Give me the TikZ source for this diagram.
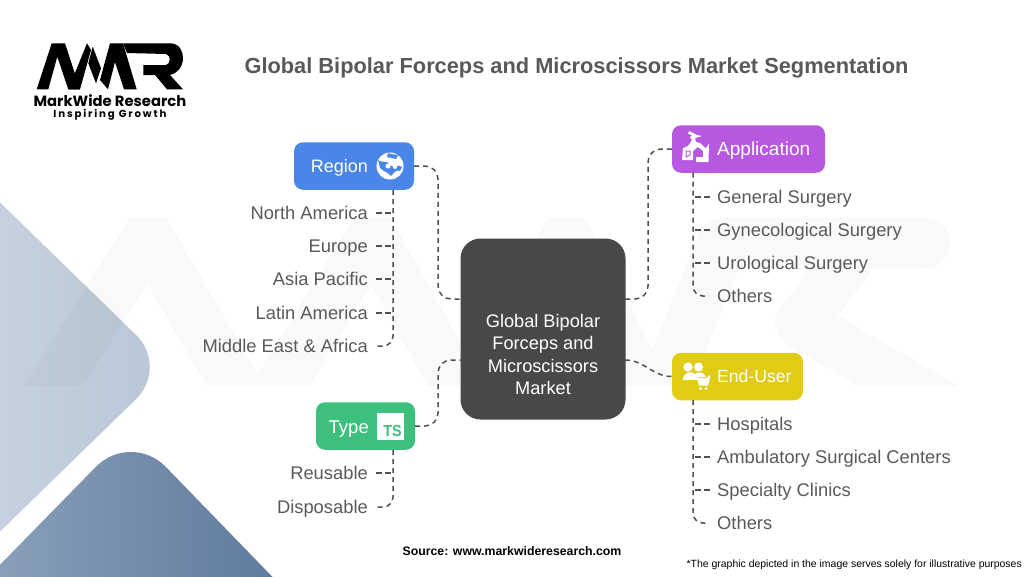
\documentclass[tikz,border=0pt]{standalone}
\usepackage{fontspec}
\usetikzlibrary{calc}
\setmainfont{Liberation Sans}
\newfontfamily\logofont{Poppins}
\newfontfamily\logospaced[LetterSpace=18]{Poppins}
\definecolor{txt}{HTML}{595959}
\definecolor{dashc}{HTML}{505050}
\definecolor{regionc}{HTML}{4A86E8}
\definecolor{appc}{HTML}{B857E0}
\definecolor{userc}{HTML}{E0CB15}
\definecolor{typec}{HTML}{3DBF7D}
\definecolor{corec}{HTML}{484848}
\tikzset{
  x=1pt,y=-1pt,
  catbox/.style={rounded corners=9pt,inner sep=0pt,minimum height=47.5pt},
  catlabel/.style={text=white,inner sep=0pt,text height=14pt,text depth=2pt},
  item/.style={text=txt,inner sep=0pt,font=\fontsize{18.35}{22}\selectfont,text height=14pt,text depth=2pt},
  dashline/.style={draw=dashc,line width=1.5pt,dash pattern=on 5pt off 4pt,rounded corners=13pt},
  tick/.style={draw=dashc,line width=1.5pt,dash pattern=on 6pt off 3pt},
  logoshape/.style={fill=black,draw=none},
  iconw/.style={fill=white,draw=none}
}
\begin{document}
\begin{tikzpicture}
\useasboundingbox (0,0) rectangle (1024,576);
\clip (0,0) rectangle (1024,576);
\fill[white] (0,0) rectangle (1024,576);
% background shapes
\shade[left color={rgb,255:red,202;green,213;blue,225},right color={rgb,255:red,184;green,198;blue,214},rounded corners=46pt]
  (-60,144) -- (169,367) -- (-60,590) -- cycle;
\shade[left color={rgb,255:red,146;green,167;blue,192},right color={rgb,255:red,88;green,116;blue,152},rounded corners=50pt]
  (131,431) -- (320,626) -- (-60,626) -- cycle;
% watermark
\begin{scope}
\clip (0,218) rectangle (1024,385);
\draw[black,opacity=0.025,line width=50pt,line join=round]
  (38,410) -- (148,236) -- (250,410)
  (265,410) -- (372,236) -- (470,410)
  (478,410) -- (566,236) -- (655,410)
  (655,410) -- (722,243) -- (925,243) arc (-90:90:-40) -- (800,323) -- (950,410);
\end{scope}
% logo
\fill[logoshape] (36.7,89.3) -- (51.7,43.3) -- (65,43.3) -- (80,89.3) -- (68.3,89.3) -- (57.3,56.7) -- (48.3,89.3) -- cycle;
\fill[logoshape] (68.3,89.3) -- (80,89.3) -- (91,50) -- (87,43.3) -- cycle;
\fill[logoshape] (92.7,46.7) -- (101,68.3) -- (96,83.3) -- (88.3,63.3) -- cycle;
\fill[logoshape] (100,80) -- (110,43.3) -- (123,43.3) -- (136.7,89.3) -- (124,89.3) -- (115,62) -- (108,89.3) -- cycle;
\fill[logoshape] (123,43.3) -- (170,43.3) .. controls (180,43.3) and (183,52) .. (183,58) .. controls (183,66) and (178,73) .. (170,75) -- (183,89.3) -- (167,89.3) -- (155,75) -- (143.3,75) -- (143.3,65) -- (166,65) .. controls (171,64) and (171,55) .. (166,54) -- (127,53) -- cycle;
\node[inner sep=0pt,anchor=center] (logoname) at (110,100.5) {\logofont\bfseries\fontsize{14.8}{16}\selectfont MarkWide Research};
\node[inner sep=0pt,anchor=center] (logotag) at (110,115) {\logospaced\bfseries\fontsize{10.2}{12}\selectfont Inspiring Growth};
% title
\node[inner sep=0pt,text=txt] (title) at (576.5,68) {\bfseries\fontsize{21.8}{26}\selectfont Global Bipolar Forceps and Microscissors Market Segmentation};
% core
\node[fill=corec,rounded corners=20pt,minimum width=165pt,minimum height=181pt,inner sep=0pt] (core) at (543,329) {};
\node[inner sep=0pt,text=white,align=center,font=\fontsize{18.2}{22.2}\selectfont] (corel) at (543,354.5) {Global Bipolar\\Forceps and\\Microscissors\\Market};
% category boxes
\node[catbox,fill=regionc,minimum width=120pt] (region) at (354,166) {};
\node[catbox,fill=appc,minimum width=153pt] (app) at (748.5,149) {};
\node[catbox,fill=userc,minimum width=131pt] (user) at (737.5,376.5) {};
\node[catbox,fill=typec,minimum width=99pt] (type) at (365.5,426) {};
\node[catlabel,anchor=east,font=\fontsize{18}{22}\selectfont] (regionl) at (368,166) {Region};
\node[catlabel,anchor=west,font=\fontsize{19}{22}\selectfont] (appl) at (717,149) {Application};
\node[catlabel,anchor=west,font=\fontsize{17.6}{22}\selectfont] (userl) at (717,376.5) {End-User};
\node[catlabel,anchor=east,font=\fontsize{18.5}{22}\selectfont] (typel) at (369,427) {Type};
% globe icon
\fill[white] (390,166) circle (13.5);
\fill[regionc] (378,160) .. controls (382,164) and (386,159) .. (390,165) .. controls (394,170) and (398,163) .. (402,167) -- (400,171) .. controls (396,169) and (394,173) .. (391,176) .. controls (388,172) and (384,172) .. (380,168) -- cycle;
\fill[regionc] (388,153) .. controls (392,155) and (395,154) .. (398,155) -- (396,159) .. controls (393,158) and (390,158) .. (387,157) -- cycle;
\fill[white] (388,166) circle (2.5) (395,167) circle (2);
% TS icon
\fill[iconw] (377,413) rectangle (404,440);
\node[inner sep=0pt,text=typec,anchor=center,xscale=0.9] (tsl) at (392.5,431) {\bfseries\fontsize{16}{18}\selectfont TS};
% application icon
\fill[iconw] (683,148) -- (688,146) -- (692,140) -- (690,137) -- (692,135) -- (688,134) -- (689,131) -- (697,135) -- (702,136) -- (695,138) -- (696,142) -- (700,143) -- (705,148) -- (707,147) -- (709,143) -- (708.5,162) -- (696,162) -- (696,157) -- (703,157) -- (703,151) -- (698,147) -- (693,151) -- (693,160) -- (682,160) -- cycle;
\draw[appc,line width=1pt] (686,151) -- (690,151) -- (690,155) -- (686,157) -- cycle;
% end-user icon
\fill[iconw] (688,367) circle (4.6) (698.5,367) circle (4.6);
\fill[iconw] (683,380) .. controls (683,371) and (693,371) .. (695,374) .. controls (698,371) and (704,372) .. (706,377) -- (698,377) -- (698,380) -- cycle;
\fill[iconw] (697,378) -- (707,378) -- (708.5,375.5) -- (710.5,376) -- (708,385.5) -- (699,385.5) -- cycle;
\fill[iconw] (700.5,388.5) circle (1.5) (706,388.5) circle (1.5);
% item lists
\node[item,anchor=east] (r1) at (368,213) {North America};
\node[item,anchor=east] (r2) at (368,246) {Europe};
\node[item,anchor=east] (r3) at (368,279) {Asia Pacific};
\node[item,anchor=east] (r4) at (368,313) {Latin America};
\node[item,anchor=east] (r5) at (368,346) {Middle East \& Africa};
\node[item,anchor=west] (a1) at (717,197) {General Surgery};
\node[item,anchor=west] (a2) at (717,230) {Gynecological Surgery};
\node[item,anchor=west] (a3) at (717,263) {Urological Surgery};
\node[item,anchor=west] (a4) at (717,296) {Others};
\node[item,anchor=west] (u1) at (717,424) {Hospitals};
\node[item,anchor=west] (u2) at (717,457) {Ambulatory Surgical Centers};
\node[item,anchor=west] (u3) at (717,490) {Specialty Clinics};
\node[item,anchor=west] (u4) at (717,523) {Others};
\node[item,anchor=east] (t1) at (368,473) {Reusable};
\node[item,anchor=east] (t2) at (368,507) {Disposable};
% footer
\node[inner sep=0pt] (source) at (512,551) {\bfseries\fontsize{12.3}{15}\selectfont Source: www.markwideresearch.com};
\node[inner sep=0pt,anchor=east] (note) at (1022,565) {\fontsize{10.45}{13}\selectfont *The graphic depicted in the image serves solely for illustrative purposes};
% main connectors
\coordinate (cl1) at (461,299);
\coordinate (cr1) at (625,299);
\coordinate (cl2) at (461,360);
\coordinate (cr2) at (625,360);
\draw[dashline] (region.east) -| ($(cl1)+(-23,0)$) -- (cl1);
\draw[dashline] (app.west) -| ($(cr1)+(23,0)$) -- (cr1);
\draw[dashline] (type.east) -| ($(cl2)+(-23,0)$) -- (cl2);
\draw[draw=dashc,line width=1.5pt,dash pattern=on 5pt off 4pt] (cr2) to[out=0,in=180] (user.west);
% tree trunks
\coordinate (rt) at (393,190);
\coordinate (at) at (693,172.5);
\coordinate (ut) at (693,400);
\coordinate (tt) at (393,450);
\draw[dashline,rounded corners=10pt] (rt) |- ($(r5.east)+(8,0)$);
\draw[dashline,rounded corners=10pt] (at) |- ($(a4.west)+(-8,0)$);
\draw[dashline,rounded corners=10pt] (ut) |- ($(u4.west)+(-8,0)$);
\draw[dashline,rounded corners=10pt] (tt) |- ($(t2.east)+(8,0)$);
\foreach \n in {r1,r2,r3,r4,t1} \draw[tick] ($(\n.east)+(8,0)$) -- (\n.east -| rt);
\foreach \n in {a1,a2,a3} \draw[tick] ($(\n.west)+(-7,0)$) -- (\n.west -| at);
\foreach \n in {u1,u2,u3} \draw[tick] ($(\n.west)+(-7,0)$) -- (\n.west -| ut);
\end{tikzpicture}
\end{document}
